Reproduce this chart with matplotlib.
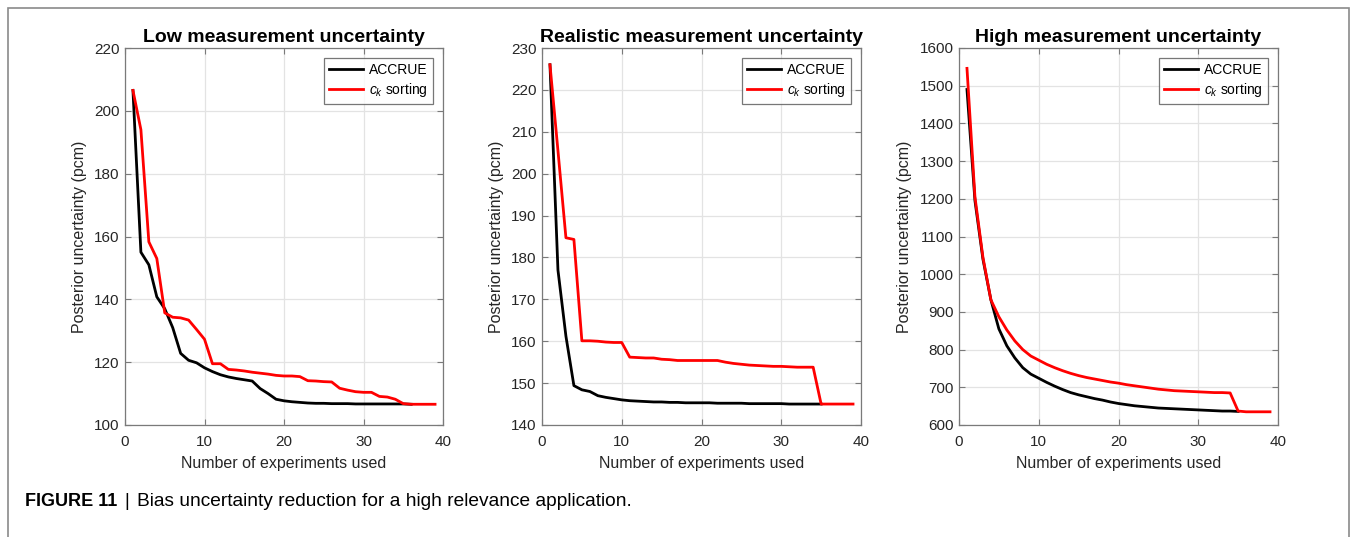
import matplotlib
matplotlib.use("Agg")
import matplotlib.pyplot as plt
from matplotlib.patches import Rectangle

plt.rcParams['font.family'] = ['Liberation Sans', 'DejaVu Sans']
plt.rcParams['mathtext.fontset'] = 'custom'
plt.rcParams['mathtext.it'] = 'Liberation Sans:italic'
plt.rcParams['mathtext.rm'] = 'Liberation Sans'

# ---------------- data ----------------
titles = ["Low measurement uncertainty",
          "Realistic measurement uncertainty",
          "High measurement uncertainty"]
x_label = "Number of experiments used"
y_label = "Posterior uncertainty (pcm)"
series_names = ["ACCRUE", "$c_k$ sorting"]
x_ticks = [0, 10, 20, 30, 40]

low_accrue = [206.5, 155.0, 151.0, 140.8, 137.0, 131.0, 122.8, 120.6, 119.8, 118.2,
              117.0, 116.0, 115.3, 114.8, 114.4, 114.0, 111.6, 110.0, 108.2, 107.7,
              107.4, 107.2, 107.0, 106.9, 106.9, 106.8, 106.8, 106.8, 106.7, 106.7,
              106.7, 106.7, 106.7, 106.7, 106.7, 106.6]
low_ck = [206.5, 194.0, 158.3, 153.0, 135.7, 134.3, 134.1, 133.4, 130.4, 127.3,
          119.5, 119.5, 117.7, 117.5, 117.2, 116.8, 116.5, 116.2, 115.8, 115.6,
          115.6, 115.4, 114.1, 114.0, 113.8, 113.7, 111.7, 111.1, 110.6, 110.4,
          110.4, 109.1, 108.9, 108.2, 106.8, 106.6, 106.6, 106.6, 106.6]

real_accrue = [226.0, 177.0, 161.2, 149.4, 148.4, 148.0, 147.0, 146.6, 146.3, 146.0,
               145.8, 145.7, 145.6, 145.5, 145.5, 145.4, 145.4, 145.3, 145.3, 145.3,
               145.3, 145.2, 145.2, 145.2, 145.2, 145.1, 145.1, 145.1, 145.1, 145.1,
               145.0, 145.0, 145.0, 145.0, 145.0]
real_ck = [226.0, 205.5, 184.7, 184.3, 160.1, 160.1, 160.0, 159.8, 159.7, 159.7,
           156.2, 156.1, 156.0, 156.0, 155.7, 155.6, 155.4, 155.4, 155.4, 155.4,
           155.4, 155.4, 155.0, 154.7, 154.5, 154.3, 154.2, 154.1, 154.0, 154.0,
           153.9, 153.8, 153.8, 153.8, 145.0, 145.0, 145.0, 145.0, 145.0]

high_accrue = [1490, 1195, 1040, 932, 855, 810, 778, 752, 735, 724,
               713, 703, 694, 686, 680, 675, 670, 666, 661, 657,
               654, 651, 649, 647, 645, 644, 643, 642, 641, 640,
               639, 638, 637, 637, 636]
high_ck = [1546, 1205, 1045, 932, 887, 852, 823, 800, 783, 772,
           761, 752, 744, 737, 731, 726, 722, 718, 714, 711,
           707, 704, 701, 698, 695, 693, 691, 690, 689, 688,
           687, 686, 686, 685, 637, 635, 635, 635, 635]

panels = [
    (low_accrue, low_ck, (100, 220), list(range(100, 221, 20))),
    (real_accrue, real_ck, (140, 230), list(range(140, 231, 10))),
    (high_accrue, high_ck, (600, 1600), list(range(600, 1601, 100))),
]

# ---------------- figure ----------------
W, H = 1354, 537
fig = plt.figure(figsize=(W / 100, H / 100), dpi=100)

lefts = [125, 542, 959]
widths = [318, 319, 319]
top_px, bot_px = 48, 425

for i, (acc, ck, ylim, yt) in enumerate(panels):
    ax = fig.add_axes([lefts[i] / W, (H - bot_px) / H, widths[i] / W, (bot_px - top_px) / H])
    xa = list(range(1, len(acc) + 1))
    xc = list(range(1, len(ck) + 1))
    ax.plot(xa, acc, color='black', lw=2.0, label=series_names[0], zorder=3)
    ax.plot(xc, ck, color='#ff0000', lw=2.0, label=series_names[1], zorder=3)
    ax.set_xlim(0, 40)
    ax.set_ylim(*ylim)
    ax.set_xticks(x_ticks)
    ax.set_yticks(yt)
    ax.grid(True, color='#e3e3e3', lw=0.9)
    ax.set_axisbelow(True)
    for s in ax.spines.values():
        s.set_color('#7a7a7a')
        s.set_linewidth(0.9)
    ax.tick_params(direction='in', top=True, right=True, length=4, width=0.8,
                   color='#7a7a7a', labelsize=11, labelcolor='#262626')
    ax.tick_params(axis='x', pad=7)
    ax.tick_params(axis='y', pad=4)
    ax.set_title(titles[i], fontsize=14, fontweight='bold', pad=4)
    ax.set_xlabel(x_label, fontsize=11.5, color='#262626', labelpad=5)
    ax.set_ylabel(y_label, fontsize=11.5, color='#262626', labelpad=5)
    leg = ax.legend(loc='upper right', fontsize=10, frameon=True, fancybox=False,
                    handlelength=2.5, borderaxespad=0.75, borderpad=0.35,
                    labelspacing=0.25, handletextpad=0.4)
    leg.get_frame().set_edgecolor('#555555')
    leg.get_frame().set_linewidth(0.9)

# outer frame
fig.patches.append(Rectangle((7.5 / W, -0.05), (1349 - 7.5) / W, 1.05 - 7.5 / H,
                             transform=fig.transFigure, fill=False,
                             edgecolor='#8a8a8a', lw=1.2))

# caption
cy = 1 - 501 / H
fig.text(25 / W, cy, "FIGURE 11", fontsize=13, fontweight='bold', va='center', ha='left')
fig.text(124 / W, cy, "|", fontsize=13.5, va='center', ha='left')
fig.text(137 / W, cy, "Bias uncertainty reduction for a high relevance application.",
         fontsize=13.8, va='center', ha='left')

fig.savefig("out.png", dpi=100)
